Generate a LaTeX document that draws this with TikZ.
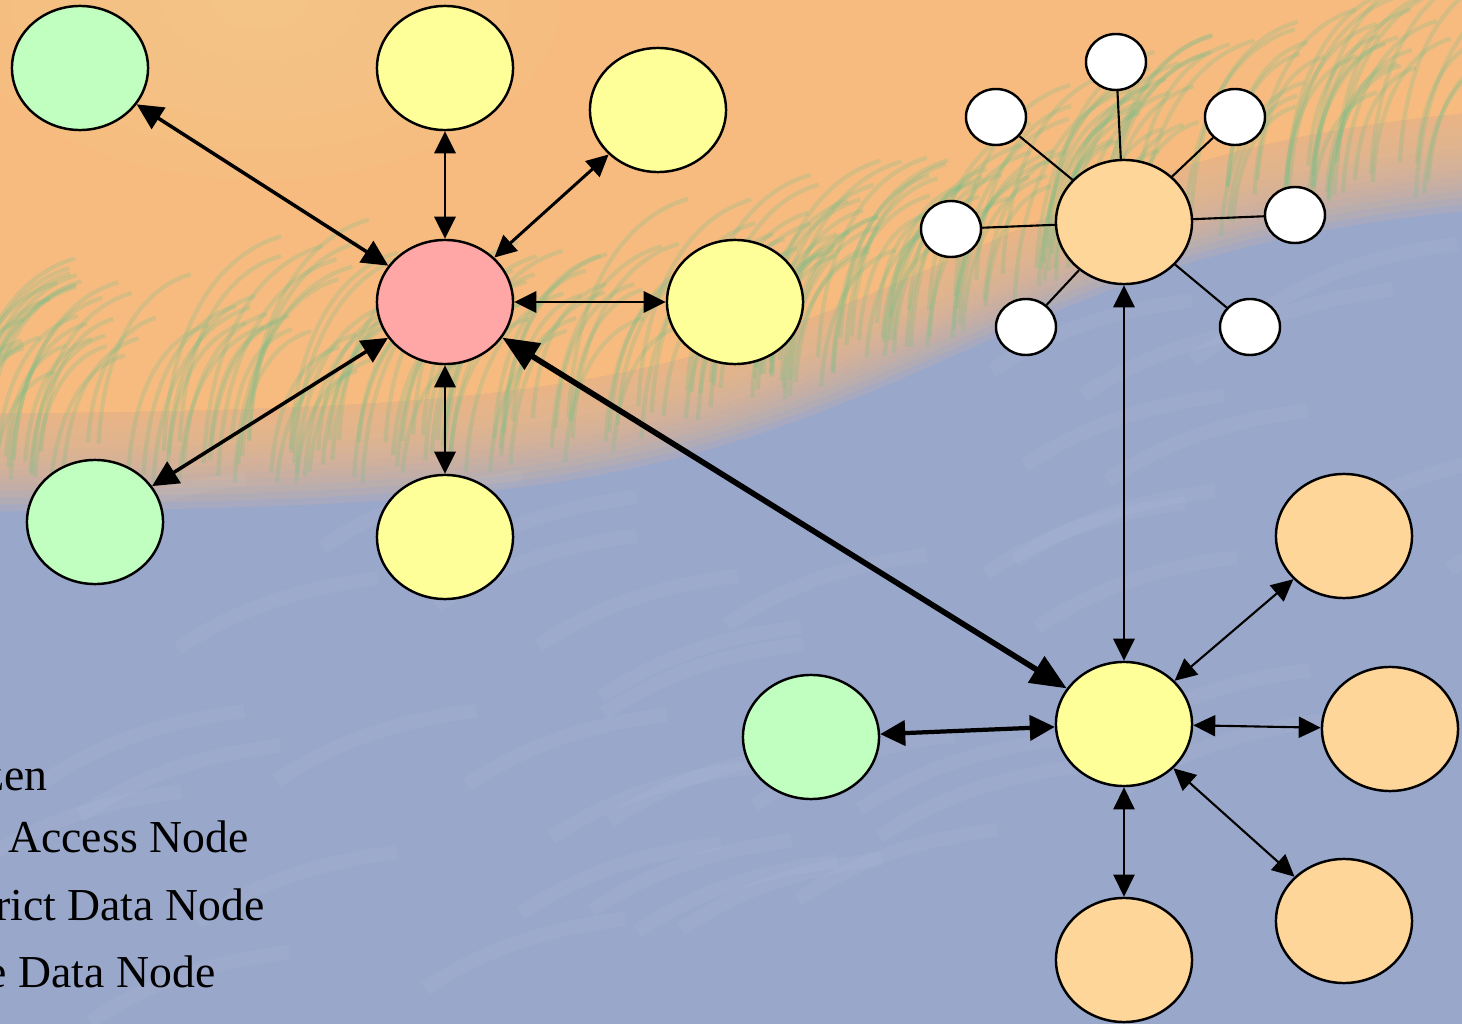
\documentclass[tikz,border=0pt]{standalone}
\usepackage{fontspec}
\setmainfont{Liberation Serif}
\usetikzlibrary{shapes.geometric,arrows.meta}
\definecolor{skyorange}{HTML}{F7BB80}
\definecolor{skylight}{HTML}{F4CE8E}
\definecolor{fieldblue}{HTML}{99A7CA}
\definecolor{grass}{HTML}{74BE88}
\definecolor{citgreen}{HTML}{C0FFC0}
\definecolor{nodeyellow}{HTML}{FFFF99}
\definecolor{nodered}{HTML}{FFA6A6}
\definecolor{nodeorange}{HTML}{FFD699}

\begin{document}
\begin{tikzpicture}[x=0.01cm,y=-0.01cm,
    big/.style={draw, ellipse, line width=0.7pt, minimum width=1.36cm, minimum height=1.24cm, inner sep=0pt},
    small/.style={draw, ellipse, fill=white, line width=0.7pt, minimum width=0.6cm, minimum height=0.56cm, inner sep=0pt},
    link/.style={line width=0.85pt, {Triangle[length=0.22cm,width=0.21cm]}-{Triangle[length=0.22cm,width=0.21cm]}},
    label/.style={anchor=base east, inner sep=0pt, font=\fontsize{13}{15}\selectfont},
    declare function={rim(\x)=465-320/(1+exp(-(\x-960)/180));}]

        \useasboundingbox (0,0) rectangle (1462,1024);
        \clip (0,0) rectangle (1462,1024);

        % sky and field
        \fill[fieldblue] (0,0) rectangle (1462,1024);
        \fill[skyorange] (0,0) -- plot[domain=0:1462,samples=50] (\x,{rim(\x)-50}) -- (1462,0) -- cycle;
        \foreach \k in {1,...,14}
            \fill[skyorange, opacity=0.14] (0,0) -- plot[domain=0:1462,samples=50] (\x,{rim(\x)-50+\k*7}) -- (1462,0) -- cycle;
        \foreach \k in {1,...,6}
            \fill[skylight, opacity=0.12] (260,0) ellipse ({50*\k} and {30*\k});

        % faint streaks in the field
        \pgfmathsetseed{5}
        \foreach \i in {1,...,40}{
            \pgfmathsetmacro{\sx}{rnd*1500-40}
            \pgfmathsetmacro{\sy}{max(rim(\sx)+60,0)+rnd*500}
            \path[draw, white, opacity=0.04, line width=4pt] (\sx,\sy) .. controls (\sx+60,\sy-40) and (\sx+120,\sy-60) .. (\sx+200,\sy-70);
        }

        % grass along the edge
        \pgfmathsetseed{11}
        \foreach \i in {1,...,220}{
            \pgfmathsetmacro{\gx}{rnd*1500-60}
            \pgfmathsetmacro{\gy}{rim(\gx)+rnd*50-20}
            \pgfmathsetmacro{\gh}{100+rnd*100}
            \path[draw, grass, opacity=0.25, line width=1.2pt] (\gx,\gy) .. controls (\gx+5,\gy-0.6*\gh) and (\gx+0.25*\gh,\gy-\gh) .. (\gx+0.6*\gh,\gy-1.1*\gh);
        }

        \node[big, fill=citgreen] (c1) at (80,68) {};
        \node[big, fill=nodeyellow] (y1) at (445,68) {};
        \node[big, fill=nodeyellow] (y2) at (658,110) {};
        \node[big, fill=nodered] (r) at (445,302) {};
        \node[big, fill=nodeyellow] (y3) at (735,302) {};
        \node[big, fill=citgreen] (c2) at (95,522) {};
        \node[big, fill=nodeyellow] (y4) at (445,537) {};

        \node[big, fill=nodeorange] (oh) at (1124,222) {};
        \node[small] (w1) at (1116,62) {};
        \node[small] (w2) at (996,117) {};
        \node[small] (w3) at (1235,117) {};
        \node[small] (w4) at (951,229) {};
        \node[small] (w5) at (1295,215) {};
        \node[small] (w6) at (1026,327) {};
        \node[small] (w7) at (1250,327) {};

        \node[big, fill=nodeyellow] (h) at (1124,724) {};
        \node[big, fill=citgreen] (c3) at (811,737) {};
        \node[big, fill=nodeorange] (o1) at (1344,536) {};
        \node[big, fill=nodeorange] (o2) at (1390,729) {};
        \node[big, fill=nodeorange] (o3) at (1344,921) {};
        \node[big, fill=nodeorange] (o4) at (1124,960) {};

        \path[draw,line width=1pt,{Triangle[length=0.26cm,width=0.25cm]}-{Triangle[length=0.26cm,width=0.25cm]}] (r) -- (c1);
        \path[draw,link] (r) -- (y1);
        \path[draw,link] (r) -- (y2);
        \path[draw,link] (r) -- (y3);
        \path[draw,link] (r) -- (y4);
        \path[draw,line width=1pt,{Triangle[length=0.26cm,width=0.25cm]}-{Triangle[length=0.26cm,width=0.25cm]}] (r) -- (c2);
        \path[draw,line width=1.6pt,{Triangle[length=0.36cm,width=0.3cm]}-{Triangle[length=0.36cm,width=0.3cm]}] (r) -- (h);
        \path[draw,link] (oh) -- (h);
        \path[draw,line width=1.2pt,{Triangle[length=0.25cm,width=0.25cm]}-{Triangle[length=0.25cm,width=0.25cm]}] (c3) -- (h);
        \path[draw,link,line width=0.6pt] (h) -- (o1);
        \path[draw,link,line width=0.6pt] (h) -- (o2);
        \path[draw,link,line width=0.6pt] (h) -- (o3);
        \path[draw,link,line width=0.6pt] (h) -- (o4);

        \foreach \w in {w1,w2,w3,w4,w5,w6,w7}
            \path[draw,line width=0.6pt] (oh) -- (\w);

        \node[label] (l1) at (48,790) {Citizen};
        \node[label] (l2) at (249,852) {Data Access Node};
        \node[label] (l3) at (265,920) {District Data Node};
        \node[label] (l4) at (216,988) {State Data Node};
    \end{tikzpicture}
\end{document}
